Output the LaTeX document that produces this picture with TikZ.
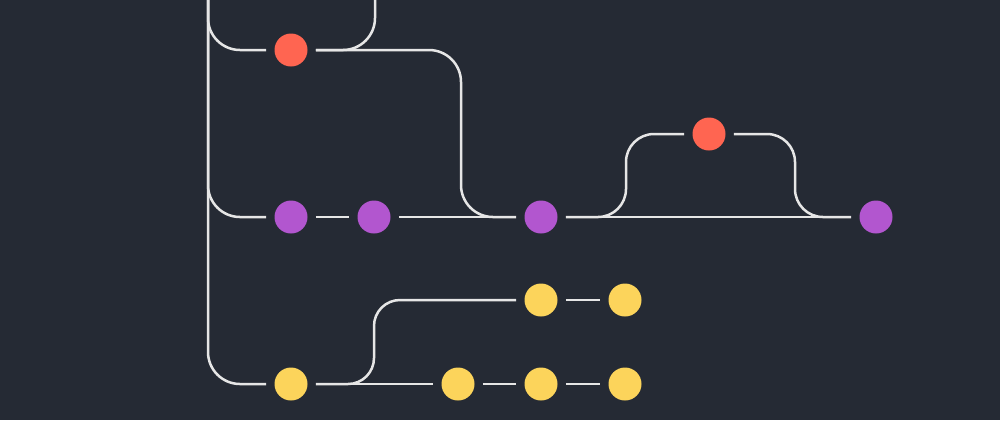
\documentclass[tikz,border=0pt]{standalone}
\begin{document}
\begin{tikzpicture}[x=0.5pt,y=-0.5pt,
  commit/.style={circle,minimum size=16.5pt,inner sep=0pt,outer sep=4.2pt},
  redc/.style={commit,fill=cred},
  purc/.style={commit,fill=cpur},
  yelc/.style={commit,fill=cyel},
  wire/.style={draw=cline,line width=1.25pt},
  rca/.style={wire,rounded corners=16pt},
  rcb/.style={wire,rounded corners=14pt},
  rcc/.style={wire,rounded corners=13pt}]
\definecolor{cbg}{HTML}{252A34}
\definecolor{cred}{HTML}{FF6551}
\definecolor{cpur}{HTML}{B256CF}
\definecolor{cyel}{HTML}{FCD45B}
\definecolor{cline}{HTML}{E6E6E6}
\fill[cbg] (0,0) rectangle (1000,420);
\useasboundingbox (0,0) rectangle (1000,420);
% commits
\node[redc] (r1) at (291,50) {};
\node[redc] (r2) at (709,134) {};
\node[purc] (p1) at (291,217) {};
\node[purc] (p2) at (374,217) {};
\node[purc] (p3) at (541,217) {};
\node[purc] (p4) at (876,217) {};
\node[yelc] (y1) at (291,384) {};
\node[yelc] (y2) at (458,384) {};
\node[yelc] (y3) at (541,384) {};
\node[yelc] (y4) at (625,384) {};
\node[yelc] (y5) at (541,300) {};
\node[yelc] (y6) at (625,300) {};
\coordinate (ttop) at (208,-20);
\coordinate (rtop) at (375,-20);
% trunk and its branches
\draw[rca] (ttop) |- (y1);
\draw[rca] (ttop) |- (p1);
\draw[rca] (ttop) |- (r1);
\draw[rca] (rtop) |- (r1);
\draw[rca] (r1) -| (461,217) -- (p3);
% purple line
\draw[wire] (p1) -- (p2);
\draw[wire] (p2) -- (p3);
\draw[wire] (p3) -- (p4);
\draw[rcb] (p3) -| (626,134) -- (r2);
\draw[rcb] (r2) -| (795,217) -- (p4);
% yellow lines
\draw[wire] (y1) -- (y2);
\draw[wire] (y2) -- (y3);
\draw[wire] (y3) -- (y4);
\draw[wire] (y5) -- (y6);
\draw[rcc] (y1) -| (374,300) -- (y5);
\end{tikzpicture}
\end{document}
